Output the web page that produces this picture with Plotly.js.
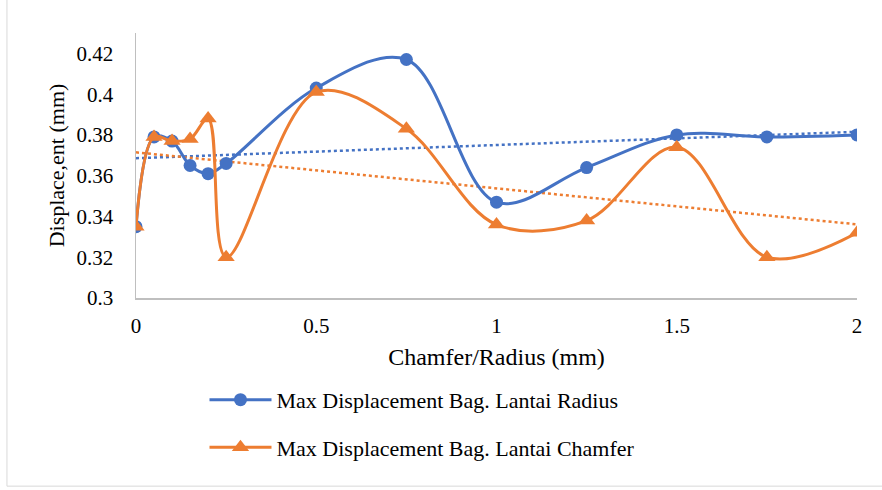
<!DOCTYPE html>
<html>
<head>
<meta charset="utf-8">
<script src="https://cdn.plot.ly/plotly-3.0.1.min.js"></script>
<style>html,body{margin:0;padding:0;background:#fff;}#chart{width:882px;height:490px;}</style>
</head>
<body>
<div id="chart"></div>
<script>
const xValues = [0, 0.05, 0.1, 0.15, 0.2, 0.25, 0.5, 0.75, 1, 1.25, 1.5, 1.75, 2];
const radiusValues = [0.335, 0.379, 0.377, 0.365, 0.361, 0.366, 0.403, 0.417, 0.347, 0.364, 0.380, 0.379, 0.380];
const chamferValues = [0.335, 0.379, 0.377, 0.378, 0.388, 0.320, 0.401, 0.383, 0.336, 0.338, 0.374, 0.320, 0.332];
const seriesNames = ["Max Displacement Bag. Lantai Radius", "Max Displacement Bag. Lantai Chamfer"];
const yTicks = [0.3, 0.32, 0.34, 0.36, 0.38, 0.4, 0.42];
const yTickText = ["0.3", "0.32", "0.34", "0.36", "0.38", "0.4", "0.42"];
const xTicks = [0, 0.5, 1, 1.5, 2];
const xTickText = ["0", "0.5", "1", "1.5", "2"];

function linFit(xs, ys) {
  const n = xs.length;
  const mx = xs.reduce((a, b) => a + b, 0) / n;
  const my = ys.reduce((a, b) => a + b, 0) / n;
  let sxy = 0, sxx = 0;
  for (let i = 0; i < n; i++) { sxy += (xs[i] - mx) * (ys[i] - my); sxx += (xs[i] - mx) ** 2; }
  const b = sxy / sxx, a = my - b * mx;
  return xs.map(x => a + b * x);
}

const blue = "#4472C4", orange = "#ED7D31";
const font = "Liberation Serif";

const traces = [
  {x: xValues, y: linFit(xValues, radiusValues), mode: "lines", line: {color: blue, width: 2.5, dash: "dot"}, showlegend: false, hoverinfo: "skip"},
  {x: xValues, y: linFit(xValues, chamferValues), mode: "lines", line: {color: orange, width: 2.5, dash: "dot"}, showlegend: false, hoverinfo: "skip"},
  {x: xValues, y: radiusValues, name: seriesNames[0], legendgroup: "a", mode: "lines+markers",
   line: {color: blue, width: 3, shape: "spline", smoothing: 1}, marker: {color: blue, size: 13, symbol: "circle"}},
  {x: xValues, y: chamferValues, name: seriesNames[1], legendgroup: "b", mode: "lines+markers",
   line: {color: orange, width: 3, shape: "spline", smoothing: 1}, marker: {color: orange, size: 15, symbol: "triangle-up"}}
];

const layout = {
  width: 882, height: 490,
  margin: {l: 136, r: 25, t: 33, b: 192},
  paper_bgcolor: "#fff", plot_bgcolor: "#fff",
  font: {family: font, color: "#000", size: 21},
  xaxis: {range: [0, 2], tickvals: xTicks, ticktext: xTickText, showgrid: false, zeroline: false,
          showline: true, linecolor: "#bfbfbf", linewidth: 1.5, ticks: "", tickfont: {size: 21, family: font},
          ticklabelstandoff: 8,
          title: {text: "Chamfer/Radius (mm)", font: {size: 24, family: font}, standoff: 11}},
  yaxis: {range: [0.3, 0.43], tickvals: yTicks, ticktext: yTickText, showgrid: false, zeroline: false,
          showline: true, linecolor: "#bfbfbf", linewidth: 1.5, ticks: "", tickfont: {size: 21, family: font},
          ticklabelstandoff: 17,
          title: {text: "Displace,ent (mm)", font: {size: 22, family: font}, standoff: 6}},
  legend: {x: 0.095, y: -0.305, xanchor: "left", yanchor: "top", orientation: "v", itemwidth: 62,
           font: {size: 22, family: font}, tracegroupgap: 16, bgcolor: "rgba(0,0,0,0)"},
  shapes: [{type: "rect", xref: "paper", yref: "paper", x0: -0.179, x1: 1.037, y0: -0.71, y1: 1.2,
            line: {color: "#d9d9d9", width: 1}, fillcolor: "rgba(0,0,0,0)", layer: "below"}],
  showlegend: true
};

Plotly.newPlot("chart", traces, layout, {displayModeBar: false, staticPlot: true});
</script>
</body>
</html>
